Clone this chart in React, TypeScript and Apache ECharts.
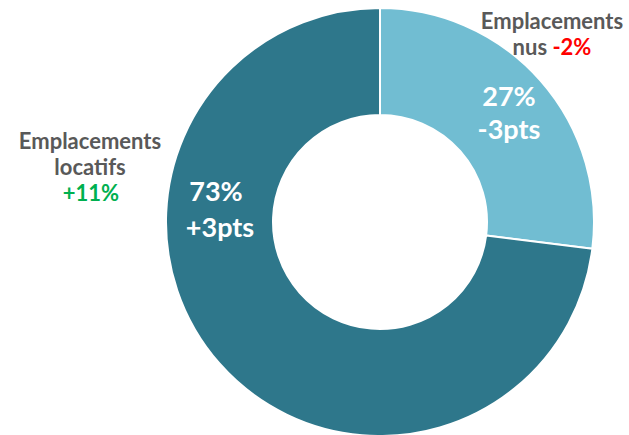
import React, { useEffect, useRef } from "react";
import * as echarts from "echarts";

const categories = ["Emplacements nus", "Emplacements locatifs"];
const shares = [27, 73];
const shareChange = ["-3pts", "+3pts"];
const volumeChange = ["-2%", "+11%"];
const sliceColors = ["#71BDD2", "#2E778B"];
const changeColors = ["#FF0000", "#00B050"];

const FONT = "Lato";

export default function App() {
  const ref = useRef<HTMLDivElement>(null);
  useEffect(() => {
    if (!ref.current) return;
    const chart = echarts.init(ref.current, null, { renderer: "svg" });
    const [nusWord1, nusWord2] = [categories[0].split(" ")[0], categories[0].split(" ")[1]];
    const [locWord1, locWord2] = [categories[1].split(" ")[0], categories[1].split(" ")[1]];
    const outerStyle = { fontFamily: FONT, fontWeight: "bold", fontSize: 22, fill: "#595959" };
    const innerStyle = {
      fontFamily: FONT,
      fontWeight: "bold",
      fontSize: 27,
      fill: "#ffffff",
      textAlign: "center",
      textVerticalAlign: "middle",
    };
    chart.setOption({
      animation: false,
      series: [
        {
          type: "pie",
          center: [380, 222],
          radius: [107, 214],
          startAngle: 90,
          clockwise: true,
          label: { show: false },
          labelLine: { show: false },
          itemStyle: { borderColor: "#ffffff", borderWidth: 2 },
          emphasis: { disabled: true },
          data: categories.map((c, i) => ({
            name: c,
            value: shares[i],
            itemStyle: { color: sliceColors[i] },
          })),
        },
      ],
      graphic: [
        {
          type: "text",
          z: 100,
          x: 552,
          y: 20,
          style: { ...outerStyle, text: nusWord1, textAlign: "center", textVerticalAlign: "middle" },
        },
        {
          type: "text",
          z: 100,
          x: 552,
          y: 46,
          style: {
            ...outerStyle,
            text: "{g|" + nusWord2 + " }{c|" + volumeChange[0] + "}",
            textAlign: "center",
            textVerticalAlign: "middle",
            rich: {
              g: { ...outerStyle, fill: "#595959", color: "#595959" },
              c: { ...outerStyle, fill: changeColors[0], color: changeColors[0] },
            },
          },
        },
        {
          type: "text",
          z: 100,
          x: 90,
          y: 140,
          style: { ...outerStyle, text: locWord1, textAlign: "center", textVerticalAlign: "middle" },
        },
        {
          type: "text",
          z: 100,
          x: 90,
          y: 166,
          style: { ...outerStyle, text: locWord2, textAlign: "center", textVerticalAlign: "middle" },
        },
        {
          type: "text",
          z: 100,
          x: 91,
          y: 192,
          style: {
            ...outerStyle,
            fill: changeColors[1],
            text: volumeChange[1],
            textAlign: "center",
            textVerticalAlign: "middle",
          },
        },
        { type: "text", z: 100, x: 509, y: 95, style: { ...innerStyle, text: shares[0] + "%" } },
        { type: "text", z: 100, x: 509, y: 128, style: { ...innerStyle, text: shareChange[0] } },
        { type: "text", z: 100, x: 216, y: 190, style: { ...innerStyle, text: shares[1] + "%" } },
        { type: "text", z: 100, x: 220, y: 226, style: { ...innerStyle, text: shareChange[1] } },
      ],
    });
    return () => chart.dispose();
  }, []);
  return (
    <div
      ref={ref}
      style={{ position: "fixed", left: 0, top: 0, width: 629, height: 435, background: "#ffffff" }}
    />
  );
}
